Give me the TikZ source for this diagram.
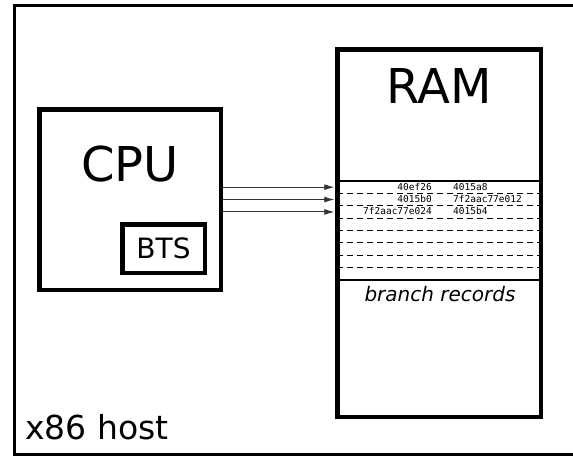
\documentclass[tikz,border=0pt]{standalone}
\usepackage{fontspec}
\setmainfont{DejaVu Sans}
\setmonofont{DejaVu Sans Mono}
\usetikzlibrary{
  calc,
  positioning,
  arrows.meta
}
\tikzset{>={Latex[length=10pt,width=6pt]}}

\begin{document}
\begin{tikzpicture}[x=1pt,y=-1pt,
    box/.style={draw,rectangle,line width=4.5pt,inner sep=0pt},
    cell/.style={rectangle,inner sep=0pt,outer sep=0pt,minimum width=203.5pt,minimum height=12.375pt},
    addr/.style={inner sep=0pt,font=\fontsize{9.5}{10}\ttfamily},
    bus/.style={->,black!80,line width=0.9pt,shorten >=3pt}]
      \useasboundingbox (0,0) rectangle (573,456);

      % host frame (runs off the right edge)
      \node[draw,rectangle,line width=3pt,minimum width=576pt,minimum height=449pt] (host) at (302,230) {};
      \node[anchor=base west,inner sep=0pt,font=\fontsize{33}{33}\selectfont] (hostlabel) at (25,439) {x86 host};

      % CPU with BTS
      \node[box,minimum width=181.5pt,minimum height=180.5pt] (cpu) at (130,199.5) {};
      \node[font=\fontsize{48}{48}\selectfont] (cpulabel) at (130,164) {CPU};
      \node[box,minimum width=82.5pt,minimum height=48.5pt,font=\fontsize{28}{28}\selectfont] (bts) at (163.5,248.5) {BTS};

      % RAM
      \node[box,minimum width=203.5pt,minimum height=367.5pt] (ram) at (439,233) {};
      \node[font=\fontsize{48}{48}\selectfont] (ramlabel) at (439,86) {RAM};

      % record rows
      \foreach \i in {1,...,8}
        \node[cell] (row\i) at (439,{174.8+12.375*\i}) {};
      \draw[line width=1.5pt] (row1.north west) -- (row1.north east);
      \draw[line width=1.5pt] (row8.south west) -- (row8.south east);
      \foreach \i in {1,...,7}
        \draw[dashed,dash pattern=on 6pt off 4pt,line width=0.9pt] (row\i.south west) -- (row\i.south east);

      % addresses
      \node[addr,anchor=east] (from1) at ($(row1.center)+(-7,-0.5)$) {40ef26};
      \node[addr,anchor=west] (to1) at ($(row1.center)+(14,-0.5)$) {4015a8};
      \node[addr,anchor=east] (from2) at ($(row2.center)+(-7,-0.5)$) {4015b0};
      \node[addr,anchor=west] (to2) at ($(row2.center)+(14,-0.5)$) {7f2aac77e012};
      \node[addr,anchor=east] (from3) at ($(row3.center)+(-7,-0.5)$) {7f2aac77e024};
      \node[addr,anchor=west] (to3) at ($(row3.center)+(14,-0.5)$) {4015b4};

      \node[font=\fontsize{20}{20}\selectfont\itshape] (reclabel) at (440,294.5) {branch records};

      % BTS writes
      \foreach \i in {1,2,3}
        \draw[bus] (cpu.east |- row\i) -- (row\i.west);
\end{tikzpicture}
\end{document}
